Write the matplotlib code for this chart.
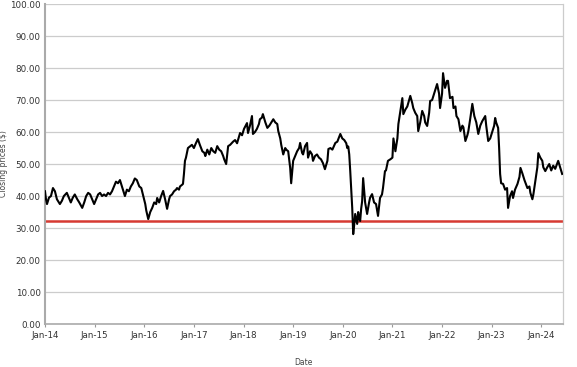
import matplotlib
matplotlib.use("Agg")
import matplotlib.pyplot as plt
import numpy as np

# closing price (decimal year, $)
years = [
    2014.00, 2014.02, 2014.04, 2014.08, 2014.12, 2014.16, 2014.20, 2014.24, 2014.30, 2014.34,
    2014.38, 2014.44, 2014.48, 2014.52, 2014.56, 2014.60, 2014.65, 2014.69, 2014.75, 2014.79,
    2014.83, 2014.87, 2014.91, 2014.95, 2014.99, 2015.03, 2015.07, 2015.11, 2015.15, 2015.19,
    2015.23, 2015.27, 2015.31, 2015.35, 2015.39, 2015.43, 2015.47, 2015.51, 2015.55, 2015.59,
    2015.61, 2015.65, 2015.69, 2015.73, 2015.77, 2015.81, 2015.85, 2015.90, 2015.94, 2015.98,
    2016.02, 2016.04, 2016.08, 2016.12, 2016.16, 2016.20, 2016.24, 2016.26, 2016.30, 2016.34,
    2016.38, 2016.42, 2016.46, 2016.50, 2016.52, 2016.56, 2016.60, 2016.64, 2016.66, 2016.70,
    2016.72, 2016.76, 2016.78, 2016.80, 2016.82, 2016.84, 2016.88, 2016.92, 2016.96, 2017.00,
    2017.04, 2017.08, 2017.12, 2017.17, 2017.21, 2017.23, 2017.27, 2017.31, 2017.35, 2017.39,
    2017.43, 2017.47, 2017.51, 2017.55, 2017.59, 2017.61, 2017.65, 2017.69, 2017.73, 2017.79,
    2017.83, 2017.87, 2017.93, 2017.97, 2018.01, 2018.07, 2018.09, 2018.13, 2018.17, 2018.19,
    2018.23, 2018.27, 2018.31, 2018.33, 2018.37, 2018.39, 2018.44, 2018.48, 2018.52, 2018.56,
    2018.60, 2018.64, 2018.68, 2018.70, 2018.74, 2018.76, 2018.80, 2018.84, 2018.86, 2018.90,
    2018.92, 2018.94, 2018.96, 2018.98, 2019.00, 2019.04, 2019.08, 2019.12, 2019.14, 2019.18,
    2019.20, 2019.24, 2019.28, 2019.30, 2019.34, 2019.38, 2019.40, 2019.44, 2019.48, 2019.52,
    2019.56, 2019.60, 2019.64, 2019.69, 2019.71, 2019.75, 2019.79, 2019.85, 2019.89, 2019.95,
    2019.99, 2020.03, 2020.07, 2020.09, 2020.11, 2020.13, 2020.15, 2020.17, 2020.19, 2020.21,
    2020.23, 2020.25, 2020.29, 2020.31, 2020.33, 2020.35, 2020.37, 2020.39, 2020.41, 2020.45,
    2020.49, 2020.53, 2020.55, 2020.59, 2020.63, 2020.67, 2020.71, 2020.75, 2020.79, 2020.81,
    2020.85, 2020.87, 2020.91, 2020.96, 2021.00, 2021.02, 2021.06, 2021.10, 2021.12, 2021.16,
    2021.20, 2021.22, 2021.26, 2021.30, 2021.36, 2021.40, 2021.42, 2021.46, 2021.50, 2021.52,
    2021.56, 2021.60, 2021.64, 2021.66, 2021.70, 2021.74, 2021.76, 2021.80, 2021.84, 2021.86,
    2021.90, 2021.94, 2021.96, 2022.00, 2022.02, 2022.06, 2022.10, 2022.12, 2022.16, 2022.21,
    2022.23, 2022.27, 2022.29, 2022.33, 2022.37, 2022.41, 2022.43, 2022.47, 2022.51, 2022.53,
    2022.57, 2022.61, 2022.65, 2022.69, 2022.73, 2022.77, 2022.81, 2022.87, 2022.89, 2022.93,
    2022.97, 2023.01, 2023.05, 2023.07, 2023.09, 2023.13, 2023.15, 2023.17, 2023.19, 2023.23,
    2023.27, 2023.31, 2023.33, 2023.37, 2023.41, 2023.43, 2023.47, 2023.52, 2023.56, 2023.58,
    2023.62, 2023.66, 2023.72, 2023.76, 2023.78, 2023.82, 2023.84, 2023.88, 2023.92, 2023.94,
    2023.98, 2024.02, 2024.04, 2024.08, 2024.12, 2024.16, 2024.20, 2024.24, 2024.28, 2024.34,
    2024.38, 2024.42,
]
close = [
    41.5, 39.0, 37.5, 39.5, 40.0, 42.5, 41.5, 39.0, 37.5, 38.5,
    40.0, 41.0, 39.5, 38.0, 39.5, 40.5, 39.0, 38.0, 36.3, 38.0,
    40.0, 41.0, 40.5, 39.0, 37.5, 39.0, 40.5, 41.0, 40.0, 40.5,
    40.0, 41.0, 40.5, 41.5, 43.0, 44.5, 44.0, 45.0, 43.0, 41.0,
    40.0, 42.0, 41.5, 43.0, 44.0, 45.5, 45.0, 43.0, 42.5, 40.0,
    37.5, 35.5, 32.8, 35.0, 36.3, 38.0, 37.5, 39.4, 38.0, 40.0,
    41.6, 39.0, 36.0, 39.0, 40.0, 40.5, 41.5, 42.0, 42.5, 42.0,
    43.0, 43.5, 43.8, 47.0, 51.0, 52.0, 55.0, 55.5, 56.0, 55.0,
    56.5, 57.8, 56.0, 54.0, 53.5, 52.5, 54.5, 53.0, 55.0, 54.0,
    53.5, 55.6, 54.5, 54.0, 52.5, 51.5, 50.0, 55.6, 56.0, 57.0,
    57.5, 56.5, 59.7, 59.0, 61.0, 62.8, 59.7, 62.0, 65.0, 59.4,
    60.0, 61.0, 62.5, 64.0, 64.5, 65.6, 63.0, 61.3, 62.0, 63.0,
    64.0, 63.0, 62.5, 60.3, 58.0, 56.0, 53.0, 55.0, 54.5, 54.0,
    51.5, 48.8, 44.0, 47.5, 51.0, 52.5, 54.0, 55.0, 56.6, 53.5,
    53.0, 55.6, 56.6, 52.0, 54.0, 53.0, 51.0, 52.5, 53.0, 52.0,
    51.5, 50.3, 48.4, 51.0, 54.7, 55.0, 54.5, 56.6, 57.0, 59.4,
    58.0, 57.5, 56.5, 55.0, 55.5, 53.0, 47.8, 42.0, 36.3, 28.1,
    31.0, 34.4, 31.3, 35.0, 33.0, 32.2, 36.0, 38.4, 45.6, 38.0,
    34.4, 38.0, 39.5, 40.6, 38.0, 37.5, 33.8, 39.4, 40.5, 42.5,
    47.8, 48.0, 51.0, 51.5, 52.0, 58.0, 54.0, 58.0, 62.5, 66.6,
    70.6, 65.6, 67.0, 68.0, 71.3, 69.0, 67.5, 66.0, 65.0, 60.3,
    63.0, 66.6, 65.0, 63.0, 61.9, 66.0, 69.7, 70.0, 72.0, 73.0,
    75.0, 72.0, 67.5, 72.0, 78.4, 73.8, 76.0, 76.0, 70.6, 71.0,
    67.5, 68.0, 65.0, 64.0, 60.3, 62.0, 61.5, 57.2, 59.0, 60.3,
    64.4, 68.8, 65.0, 63.0, 59.4, 62.0, 63.4, 65.0, 62.0, 57.2,
    58.0, 60.0, 62.0, 64.4, 63.0, 61.3, 55.0, 46.9, 44.0, 43.8,
    42.0, 42.5, 36.3, 40.0, 41.5, 39.4, 42.0, 43.8, 46.0, 48.8,
    47.0, 45.0, 42.5, 43.0, 41.0, 39.0, 40.5, 44.7, 49.0, 53.4,
    52.0, 51.0, 49.0, 47.8, 49.0, 50.0, 48.0, 49.5, 48.5, 51.0,
    49.0, 46.9,
]
support_level = 32.3
tick_years = list(range(2014, 2025))
tick_labels = ["Jan-%02d" % (y % 100) for y in tick_years]
y_ticks = list(range(0, 101, 10))

fig = plt.figure(figsize=(5.77, 3.67), dpi=100)
ax = fig.add_axes([0.078, 0.117, 0.898, 0.872])

for yv in y_ticks:
    ax.axhline(yv, color="#cccccc", lw=0.9, zorder=0)

ax.axhline(support_level, color="#d63a32", lw=1.8, zorder=2)
ax.plot(years, close, color="black", lw=1.5, zorder=3)

ax.set_xlim(2014.0, 2024.44)
ax.set_ylim(0, 100)
ax.set_xticks(tick_years)
ax.set_xticklabels(tick_labels)
ax.set_yticks(y_ticks)
ax.set_yticklabels(["%.2f" % v for v in y_ticks])
ax.tick_params(axis="both", labelsize=6.3, colors="#333333", length=0, pad=3)
ax.tick_params(axis="x", length=2, color="#999999")

ax.spines["top"].set_visible(False)
ax.spines["left"].set_color("#aaaaaa")
ax.spines["left"].set_linewidth(1.5)
ax.spines["bottom"].set_color("#aaaaaa")
ax.spines["bottom"].set_linewidth(1.2)
ax.spines["right"].set_color("#cccccc")
ax.spines["right"].set_linewidth(0.9)

ax.set_xlabel("Date", fontsize=5.5, color="#444444")
ax.set_ylabel("Closing prices ($)", fontsize=5.5, color="#444444")
ax.xaxis.set_label_coords(0.498, -0.106)
ax.yaxis.set_label_coords(-0.071, 0.5)

fig.savefig("out.png", dpi=100)
